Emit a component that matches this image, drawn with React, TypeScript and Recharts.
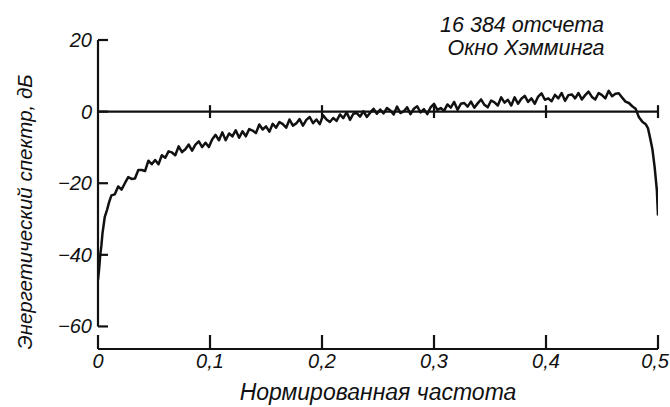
import React from 'react';
import { LineChart, Line, XAxis, YAxis, ReferenceLine } from 'recharts';

const freqs = [
  0, 0.001, 0.002, 0.003, 0.004, 0.006, 0.008, 0.01,
  0.012, 0.015, 0.018, 0.021, 0.024, 0.027, 0.03, 0.033, 0.036, 0.039,
  0.042, 0.045, 0.048, 0.051, 0.054, 0.057, 0.06, 0.063, 0.066, 0.069,
  0.072, 0.075, 0.078, 0.081, 0.084, 0.087, 0.09, 0.093, 0.096, 0.099,
  0.102, 0.105, 0.108, 0.111, 0.114, 0.117, 0.12, 0.123, 0.126, 0.129,
  0.132, 0.135, 0.138, 0.141, 0.144, 0.147, 0.15, 0.153, 0.156, 0.159,
  0.162, 0.165, 0.168, 0.171, 0.174, 0.177, 0.18, 0.183, 0.186, 0.189,
  0.192, 0.195, 0.198, 0.201, 0.204, 0.207, 0.21, 0.213, 0.216, 0.219,
  0.222, 0.225, 0.228, 0.231, 0.234, 0.237, 0.24, 0.243, 0.246, 0.249,
  0.252, 0.255, 0.258, 0.261, 0.264, 0.267, 0.27, 0.273, 0.276, 0.279,
  0.282, 0.285, 0.288, 0.291, 0.294, 0.297, 0.3, 0.303, 0.306, 0.309,
  0.312, 0.315, 0.318, 0.321, 0.324, 0.327, 0.33, 0.333, 0.336, 0.339,
  0.342, 0.345, 0.348, 0.351, 0.354, 0.357, 0.36, 0.363, 0.366, 0.369,
  0.372, 0.375, 0.378, 0.381, 0.384, 0.387, 0.39, 0.393, 0.396, 0.399,
  0.402, 0.405, 0.408, 0.411, 0.414, 0.417, 0.42, 0.423, 0.426, 0.429,
  0.432, 0.435, 0.438, 0.441, 0.444, 0.447, 0.45, 0.453, 0.456, 0.459,
  0.462, 0.465, 0.468, 0.471, 0.474, 0.477, 0.48, 0.483, 0.486, 0.489,
  0.491, 0.493, 0.495, 0.497, 0.499, 0.5,
];

const powerDb = [
  -47, -44, -40, -37.5, -34, -29.5, -27.5, -25.2,
  -23.4, -23.1, -20.9, -21.8, -20.0, -18.3, -18.8, -18.7, -16.3, -16.3,
  -16.6, -13.7, -14.7, -13.5, -14.7, -12.2, -12.9, -11.1, -11.4, -12.2,
  -9.7, -11.3, -10.5, -9.2, -10.9, -9.2, -8.3, -9.9, -8.7, -9.9,
  -7.7, -6.5, -8.0, -5.8, -8.0, -6.1, -6.9, -5.2, -7.3, -5.5,
  -6.9, -4.9, -5.3, -6.0, -3.6, -5.0, -4.1, -5.6, -3.4, -4.5,
  -2.9, -3.5, -4.5, -2.2, -3.9, -3.3, -2.1, -3.9, -2.3, -1.5,
  -3.2, -2.2, -3.5, -1.0, -2.2, -2.9, -1.8, -2.6, -0.8, -1.8,
  -0.2, -2.3, -0.6, -0.4, -1.4, 0.1, -1.5, -0.3, 0.8, -0.6,
  0.6, -0.5, 1.0, 0.3, -0.8, 1.4, -0.4, 0.1, 1.2, -0.7,
  0.8, 1.5, -0.2, 0.7, -0.7, 1.2, 2.2, 0.5, 1.0, 0.2,
  2.0, 1.1, 2.7, 0.5, 2.2, 2.4, 1.4, 2.8, 1.1, 2.3,
  3.4, 1.9, 1.2, 3.1, 2.6, 1.7, 4.0, 2.5, 3.3, 1.7,
  4.0, 2.2, 3.6, 4.4, 2.7, 3.7, 2.2, 4.2, 5.1, 3.3,
  3.7, 2.9, 4.7, 3.7, 5.2, 3.0, 4.6, 4.8, 3.7, 5.2,
  3.4, 4.6, 5.6, 4.1, 3.4, 5.2, 4.6, 3.7, 5.8, 4.3,
  5.0, 5.1, 3.9, 2.8, 2.4, 1.5, 0.8, -1.6, -2.8, -3.5,
  -4.6, -7.4, -10.5, -15.5, -22, -29,
];

const xTicks = [0, 0.1, 0.2, 0.3, 0.4, 0.5];
const xTickLabels = ['0', '0,1', '0,2', '0,3', '0,4', '0,5'];
const yTicks = [20, 0, -20, -40, -60];
const yTickLabels = ['20', '0', '\u221220', '\u221240', '\u221260'];

const title1 = '16 384 отсчета';
const title2 = 'Окно Хэмминга';
const xLabel = 'Нормированная частота';
const yLabel = 'Энергетический спектр, дБ';

const data = freqs.map((f, i) => ({ f, db: powerDb[i] }));

const FONT = '"Liberation Sans", Arial, sans-serif';
const INK = '#111';

const XTick = ({ x, y, index }: any) => {
  const last = index === xTickLabels.length - 1;
  return (
    <g>
      <line x1={x} x2={x} y1={y} y2={y - 14} stroke={INK} strokeWidth={2.2} />
      <text
        x={last ? 669 : x}
        y={y + 19}
        textAnchor={last ? 'end' : 'middle'}
        fontFamily={FONT}
        fontStyle="italic"
        fontSize={20}
        fill={INK}
      >
        {xTickLabels[index]}
      </text>
    </g>
  );
};

const YTick = ({ x, y, index }: any) => (
  <g>
    <line x1={x} x2={x + 10} y1={y} y2={y} stroke={INK} strokeWidth={2.2} />
    <text x={x - 6} y={y + 7} textAnchor="end" fontFamily={FONT} fontStyle="italic" fontSize={20} fill={INK}>
      {yTickLabels[index]}
    </text>
  </g>
);

export default function App() {
  return (
    <div style={{ position: 'absolute', left: 0, top: 0, width: 670, height: 407, background: '#fff' }}>
      <LineChart width={670} height={407} data={data} margin={{ top: 40, right: 12, left: 38, bottom: 28 }}>
        <XAxis
          dataKey="f"
          type="number"
          domain={[0, 0.5]}
          ticks={xTicks}
          allowDataOverflow
          tickLine={false}
          tickSize={0}
          tickMargin={0}
          tick={<XTick />}
          axisLine={{ stroke: INK, strokeWidth: 2.2 }}
          label={{
            content: () => (
              <text x={378} y={400} textAnchor="middle" fontFamily={FONT} fontStyle="italic" fontSize={23} fill={INK}>
                {xLabel}
              </text>
            ),
          }}
        />
        <YAxis
          type="number"
          domain={[-66.3, 20]}
          ticks={yTicks}
          allowDataOverflow
          axisLine={false}
          tickLine={false}
          tickSize={0}
          tickMargin={0}
          tick={<YTick />}
          label={{
            content: () => (
              <text
                x={0}
                y={0}
                transform="translate(32,212) rotate(-90)"
                textAnchor="middle"
                fontFamily={FONT}
                fontStyle="italic"
                fontSize={20.5}
                fill={INK}
              >
                {yLabel}
              </text>
            ),
          }}
        />
        <ReferenceLine segment={[{ x: 0, y: -60 }, { x: 0, y: 20 }]} stroke={INK} strokeWidth={2.2} ifOverflow="visible" />
        <ReferenceLine y={0} stroke={INK} strokeWidth={2.2} />
        {xTicks.slice(1).map((t) => (
          <ReferenceLine
            key={t}
            segment={[{ x: t, y: -1.8 }, { x: t, y: 1.8 }]}
            stroke={INK}
            strokeWidth={2.2}
            ifOverflow="visible"
          />
        ))}
        <Line
          type="linear"
          dataKey="db"
          stroke={INK}
          strokeWidth={2.5}
          strokeLinejoin="round"
          dot={false}
          isAnimationActive={false}
        />
      </LineChart>
      <svg width={670} height={407} style={{ position: 'absolute', left: 0, top: 0, pointerEvents: 'none' }}>
        <text x={522} y={32} textAnchor="middle" fontFamily={FONT} fontStyle="italic" fontSize={21.5} fill={INK}>
          {title1}
        </text>
        <text x={526} y={55} textAnchor="middle" fontFamily={FONT} fontStyle="italic" fontSize={21.5} fill={INK}>
          {title2}
        </text>
      </svg>
    </div>
  );
}
